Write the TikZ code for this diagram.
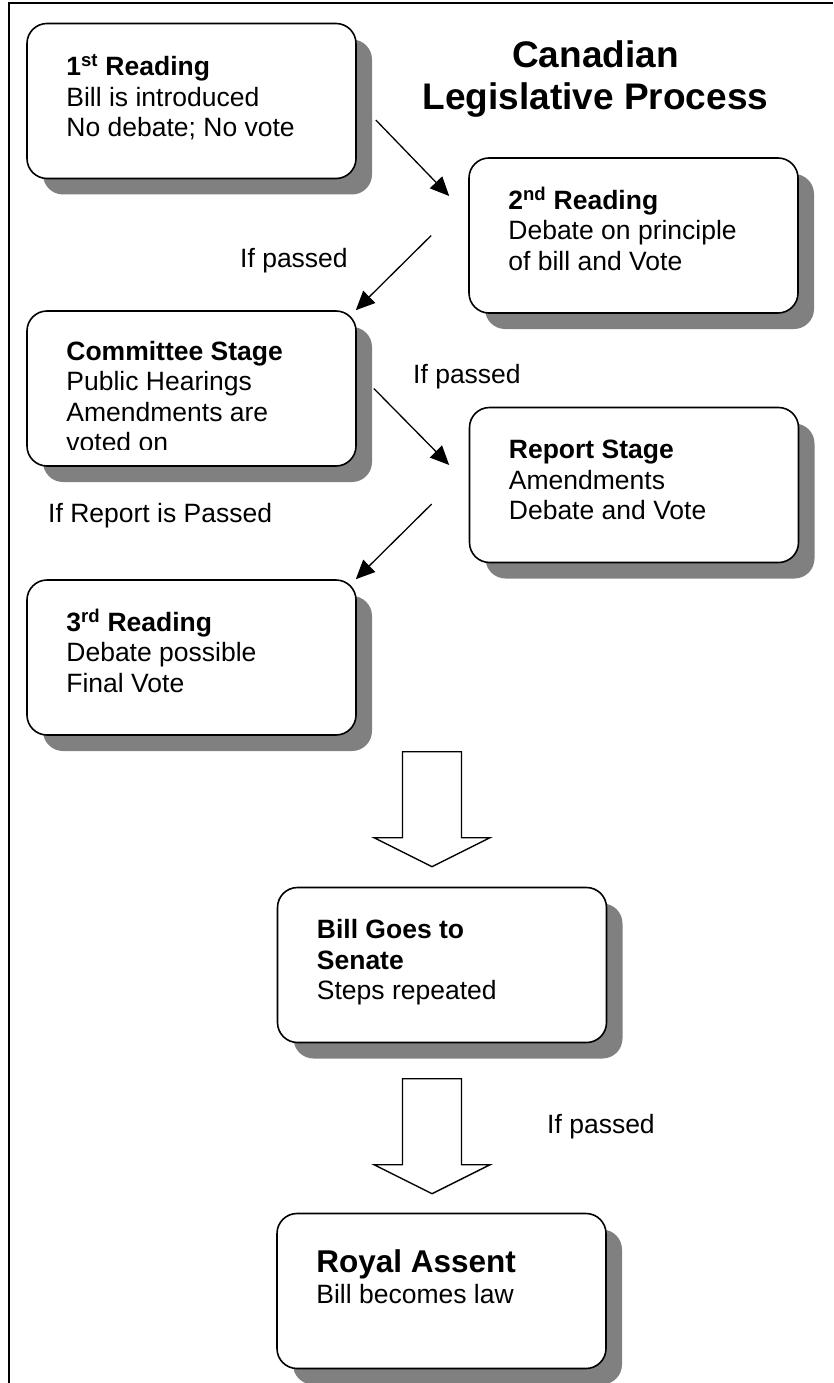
\documentclass[tikz,border=0pt]{standalone}
\usepackage{fontspec}
\setmainfont{Liberation Sans}
\usetikzlibrary{arrows.meta,shadows}

\begin{document}
\begin{tikzpicture}[x=1pt,y=-1pt,
    stage/.style={draw,line width=1.6pt,rounded corners=20pt,fill=white,
      minimum width=329pt,minimum height=155pt,inner sep=0pt,
      drop shadow={shadow xshift=16pt,shadow yshift=-16pt,fill=black!50,opacity=1}},
    words/.style={anchor=base west,align=left,inner sep=0pt,
      font=\fontsize{26.5}{30.5}\selectfont},
    thin/.style={line width=1.3pt,-{Triangle[length=19pt,width=17pt]}},
    fat/.style={line width=1.4pt,fill=white,line join=miter}]
  \useasboundingbox (0,0) rectangle (833,1383);
  \draw[line width=1.8pt] (833,3) -- (9,3) -- (9,1383);

  % the stages
  \node[stage] (first) at (191.5,101) {};
  \node[stage] (second) at (633.5,235.5) {};
  \node[stage] (committee) at (191.5,388.5) {};
  \node[stage] (report) at (634,485) {};
  \node[stage] (third) at (191.5,657.5) {};
  \node[stage] (senate) at (442,965) {};
  \node[stage] (royal) at (441.5,1291) {};

  \node[anchor=base,align=center,font=\fontsize{37}{42.5}\selectfont\bfseries]
    (title) at (595.5,110) {Canadian\\Legislative Process};

  % texts sit on the baseline of their last line
  \node[words] (firsttext) at ([shift={(40,114)}]first.north west)
    {\textbf{1\textsuperscript{st} Reading}\\Bill is introduced\\No debate; No vote};
  \node[words] (secondtext) at ([shift={(40,113)}]second.north west)
    {\textbf{2\textsuperscript{nd} Reading}\\Debate on principle\\of bill and Vote};
  \begin{scope}
    \clip (committee.north west) rectangle ([shift={(0,-17)}]committee.south east);
    \node[words] (committeetext) at ([shift={(40,141.5)}]committee.north west)
      {\textbf{Committee Stage}\\Public Hearings\\Amendments are\\voted on};
  \end{scope}
  \node[words] (reporttext) at ([shift={(40,113)}]report.north west)
    {\textbf{Report Stage}\\Amendments\\Debate and Vote};
  \node[words] (thirdtext) at ([shift={(40,113)}]third.north west)
    {\textbf{3\textsuperscript{rd} Reading}\\Debate possible\\Final Vote};
  \node[words] (senatetext) at ([shift={(40,113)}]senate.north west)
    {\textbf{Bill Goes to}\\\textbf{Senate}\\Steps repeated};
  \node[words,font=\fontsize{26.5}{31}\selectfont] (royaltext) at ([shift={(40,91)}]royal.north west)
    {{\fontsize{31.5}{31}\selectfont\bfseries Royal Assent}\\Bill becomes law};

  \node[words] (pass1) at (240,267) {If passed};
  \node[words] (pass2) at (413,383) {If passed};
  \node[words] (pass3) at (48,522) {If Report is Passed};
  \node[words] (pass4) at (547,1133) {If passed};

  \draw[thin] ([shift={(19,19)}]first.east) -- ([shift={(-19,-39.5)}]second.west);
  \draw[thin] ([shift={(-37,0)}]second.west) -- ([shift={(-1,0)}]committee.north east);
  \draw[thin] ([shift={(17,0)}]committee.east) -- ([shift={(-19.5,-20)}]report.west);
  \draw[thin] ([shift={(-37,19)}]report.west) -- ([shift={(-1,0)}]third.north east);

  \draw[fat] ([shift={(-39.5,-135)}]senate.north) -- ++(0,86) -- ++(-28.5,0)
    -- ++(58,29) -- ++(58,-29) -- ++(-28.5,0) -- ++(0,-86) -- cycle;
  \draw[fat] ([shift={(-39,-134)}]royal.north) -- ++(0,86) -- ++(-28.5,0)
    -- ++(58,29) -- ++(58,-29) -- ++(-28.5,0) -- ++(0,-86) -- cycle;
\end{tikzpicture}
\end{document}
